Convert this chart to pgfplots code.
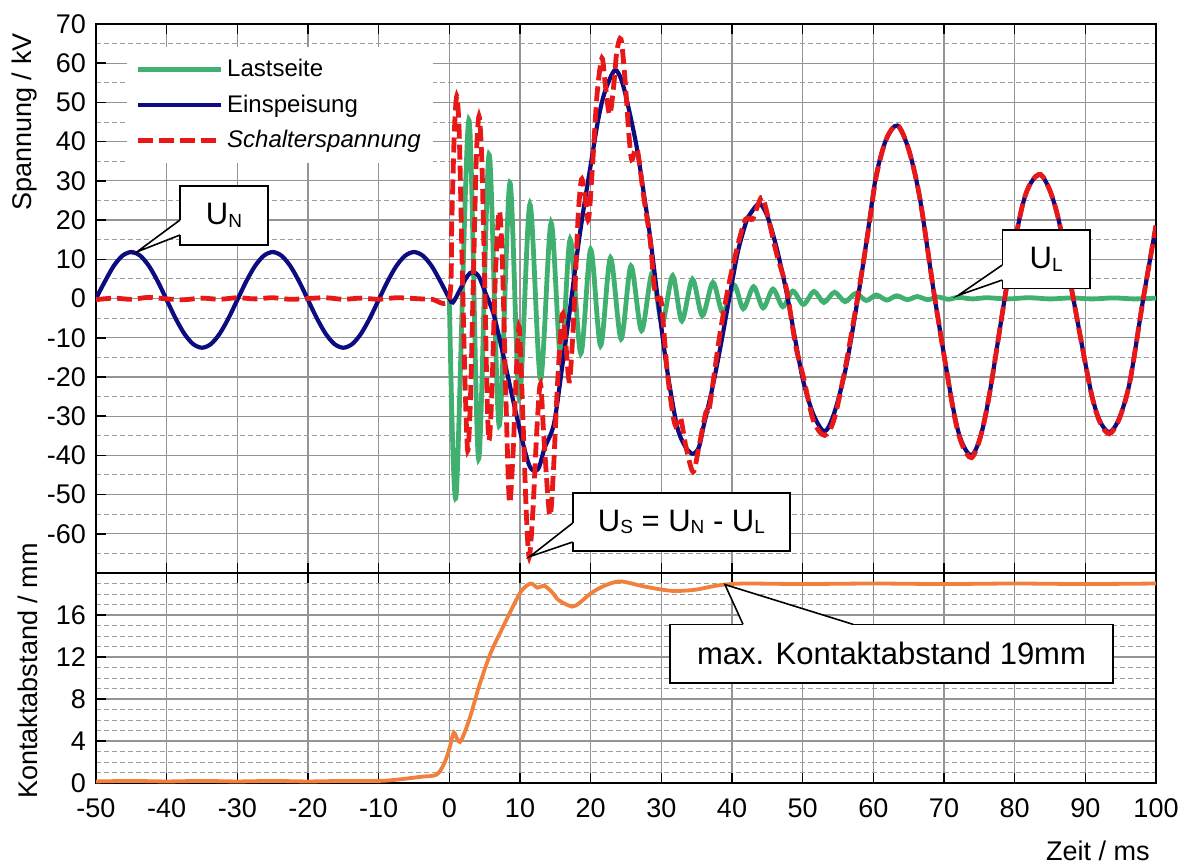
\documentclass[border=0pt]{standalone}
\usepackage{fontspec}
\setmainfont{Liberation Sans}
\usepackage{pgfplots}
\pgfplotsset{compat=1.18}
\definecolor{cgreen}{RGB}{64,176,112}
\definecolor{cblue}{RGB}{12,12,128}
\definecolor{cred}{RGB}{232,24,24}
\definecolor{corange}{RGB}{240,128,60}
\begin{document}
\begin{tikzpicture}
\useasboundingbox (0,0) rectangle (593.5pt,-431.5pt);
\pgfplotsset{
 mystyle/.style={scale only axis, width=530pt, xmin=-50, xmax=100,
  xtick={-50,-40,...,100}, grid=both,
  major grid style={draw=black!42, line width=0.6pt},
  minor grid style={draw=black!38, line width=0.5pt, dash pattern=on 2.5pt off 1.5pt},
  axis line style={black, line width=0.8pt},
  major tick style={black, line width=0.8pt},
  major tick length=5pt, minor tick length=0pt, tick align=inside, ytick pos=left,
  /pgf/number format/assume math mode=true,
  ticklabel style={font=\fontsize{13.5}{16}\selectfont},
  yticklabel style={xshift=-1.5pt}, xticklabel style={yshift=-4.5pt}}
}
% ---------------- top axis ----------------
\begin{axis}[mystyle, at={(48pt,-12pt)}, anchor=north west, height=274.5pt,
  ymin=-70, ymax=70, ytick={-60,-50,...,70}, minor ytick={-65,-55,...,65},
  xticklabels={},
  legend style={at={(0.0292,0.958)}, anchor=north west, draw=none, fill=white,
    font=\fontsize{12}{13.5}\selectfont, row sep=3.5pt, inner xsep=4pt, inner ysep=4pt},
  legend cell align=left,
  legend image code/.code={\draw[#1] (0pt,0pt) -- (41.5pt,0pt);}]
% Lastseite
\addplot[cgreen, line width=2.4pt, smooth] coordinates {
(0,0) (0.95,-50.5) (2.76,45.5) (4.14,-40.9) (5.62,36.7) (7.05,-32.4) (8.57,29.5)
(9.9,-25.6) (11.4,24) (12.9,-20.5) (14.4,19.3) (15.8,-16.5) (17.1,15.1) (18.6,-14)
(20.0,12.5) (21.4,-12) (22.8,10.4) (24.3,-10.3) (25.7,8.3) (27.2,-8.2) (28.7,6.5)
(30.1,-6.3) (31.6,5.8) (32.9,-5.7) (34.4,4.9) (35.8,-4.4) (37.3,4.1) (38.7,-3.6)
(40.3,3.4) (41.6,-2.6) (43.05,3.0) (44.4,-2.4) (45.8,2.4) (47.2,-2.1) (48.6,1.9)
(50.1,-1.5) (51.6,1.8) (53.0,-1.0) (54.5,1.6) (56.0,-0.8) (57.5,1.3) (59.0,-0.5)
(60.4,0.9) (61.9,-0.4) (63.3,0.7) (64.8,-0.3) (66.2,0.5) (67.7,-0.3) (69.1,0.4)
(70.6,-0.2) (72.0,0.3) (74,-0.1) (76,0.2) (79,-0.1) (82,0.2) (85,-0.1) (88,0.15)
(91,-0.1) (94,0.15) (97,-0.1) (100,0.1)};
\addlegendentry{Lastseite}
% Einspeisung
\addplot[cblue, line width=2.1pt, smooth] coordinates {
(-50,0) (-48.75,4.32) (-47.5,8.28) (-46.25,10.92) (-45,11.85) (-43.75,10.92) (-42.5,8.28)
(-41.25,4.32) (-40,-0.35) (-38.75,-5.02) (-37.5,-8.98) (-36.25,-11.62) (-35,-12.55)
(-33.75,-11.62) (-32.5,-8.98) (-31.25,-5.02) (-30,-0.35) (-28.75,4.32) (-27.5,8.28)
(-26.25,10.92) (-25,11.85) (-23.75,10.92) (-22.5,8.28) (-21.25,4.32) (-20,-0.35)
(-18.75,-5.02) (-17.5,-8.98) (-16.25,-11.62) (-15,-12.55) (-13.75,-11.62) (-12.5,-8.98)
(-11.25,-5.02) (-10,-0.35) (-8.75,4.32) (-7.5,8.28) (-6.25,10.92) (-5,11.85)
(-3.75,10.92) (-2.5,8.28) (-1.25,4.32) (0,0) (0.5,-1.0) (1.5,2.2) (2.5,5.6) (3.3,6.8)
(4.2,5.5) (5.2,1.0) (6.2,-3.6) (7.2,-11) (8.3,-20) (9.4,-29) (10.5,-37.5) (11.3,-42.5)
(12.0,-44) (12.7,-43) (13.5,-38) (14.8,-32) (16.0,-17) (17.2,-1) (18.2,13) (19.1,24)
(20.0,34) (21.0,45) (21.8,51.5) (22.7,56) (23.5,58.3) (24.3,56) (25.1,50.7) (26.5,38.8)
(27.5,27) (28.4,15.9) (29.5,-0.2) (30.8,-18) (32.2,-32.4) (33.3,-37.5) (34.4,-39.6)
(35.3,-38) (36.0,-32.4) (37.2,-23) (38.4,-12) (39.6,0) (40.8,11.7) (42.0,19.5)
(42.7,21.9) (43.9,24.2) (45.0,21) (46.3,13) (47.7,1.7) (49.0,-11) (50.1,-21.2)
(51.5,-29.5) (53.1,-33.9) (54.5,-29) (56.2,-16.9) (58.1,3.4) (59.3,18) (60.4,31.4)
(61.8,40.5) (63.4,44.1) (65.0,38) (66.6,25.4) (68.7,0) (71.3,-28) (72.5,-36.5)
(73.9,-40) (75.2,-35) (76.5,-23.7) (78.9,3.4) (81.0,23) (82.3,29.5) (83.7,31.5)
(85.1,27) (86.4,18.6) (88.3,0) (90.7,-22.9) (92.0,-31) (93.4,-34.1) (94.8,-30.5)
(96.3,-21.2) (98.2,0) (100,18.6)};
\addlegendentry{Einspeisung}
% Schalterspannung
\addplot[cred, line width=2.4pt, dash pattern=on 7.5pt off 3pt, smooth] coordinates {
(-50,-0.3) (-47.5,0.1) (-45,-0.2) (-42.5,0.3) (-40,-0.1) (-37.5,-0.3) (-35,0.1)
(-32.5,-0.2) (-30,0.2) (-27.5,-0.1) (-25,0.2) (-22.5,-0.2) (-20,0) (-17.5,0.2)
(-15,-0.2) (-12.5,0.1) (-10,-0.2) (-7.5,0.2) (-5,0) (-2.5,-0.2) (0,0)
(0.35,20) (0.7,42) (1.05,51.6) (1.4,42) (1.8,10) (2.2,-20) (2.6,-38.8) (3.0,-25)
(3.4,5) (3.8,35) (4.2,46.5) (4.6,35) (5.0,5) (5.3,-22) (5.6,-36.2) (6.0,-25) (6.5,5)
(7.05,22.3) (7.5,10) (8.0,-25) (8.5,-51.9) (9.0,-40) (9.5,-18) (9.9,-7.4) (10.4,-30)
(10.9,-55) (11.3,-65.9) (11.8,-55) (12.4,-33) (12.9,-21.8) (13.4,-36) (14.2,-55.3)
(14.7,-45) (15.3,-22) (16.0,-4) (16.5,-12) (17.0,-21) (17.6,-5) (18.2,20) (18.7,30.4)
(19.2,26) (19.7,20.2) (20.3,35) (20.9,52) (21.6,61.3) (22.1,54) (22.7,46.9) (23.3,55)
(23.7,63) (24.3,66.1) (24.9,55) (25.4,42) (25.8,35.4) (26.3,38) (26.7,37.1) (27.5,26)
(28.4,15.1) (29.0,3) (29.5,-0.2) (30.0,-1) (30.8,-18) (31.5,-28) (32.0,-32.4)
(32.7,-30.3) (33.5,-38) (34.5,-44.2) (35.3,-38) (36.3,-29) (36.7,-29) (37.5,-19)
(38.4,-7.8) (39.6,4) (40.8,13.4) (41.9,20.2) (42.9,20.2) (43.6,23.5) (44.3,25.8)
(45.2,20) (46.3,11.5) (47.7,2.5) (49.0,-12) (50.1,-20) (51.5,-31) (53.1,-34.9)
(54.5,-30.5) (56.2,-16) (58.1,3.8) (59.3,17.5) (60.4,31) (61.8,40.5) (63.4,44.2)
(65.0,38) (66.6,25.4) (68.7,0) (71.3,-28.3) (72.5,-37) (73.9,-40.6) (75.2,-35)
(76.5,-23.7) (78.9,3.4) (81.0,23) (82.3,29.6) (83.7,31.6) (85.1,27) (86.4,18.6)
(88.3,0) (90.7,-23) (92.0,-31.3) (93.4,-34.5) (94.8,-30.7) (96.3,-21.2) (98.2,0)
(100,18.6)};
\addlegendentry{\textit{Schalterspannung}}
\coordinate (tN) at (axis cs:-44.2,11.9);
\coordinate (tS) at (axis cs:11.4,-65.8);
\coordinate (tL) at (axis cs:72.0,0.8);
\end{axis}
% ---------------- bottom axis ----------------
\begin{axis}[mystyle, at={(48pt,-286.5pt)}, anchor=north west, height=105pt,
  ymin=0, ymax=20, ytick={0,4,...,16},
  minor ytick={1,2,3,5,6,7,9,10,11,13,14,15,17,18,19}]
\addplot[corange, line width=1.9pt, smooth] coordinates {
(-50,0.15) (-45,0.2) (-40,0.15) (-35,0.2) (-30,0.15) (-25,0.2) (-20,0.15) (-15,0.2)
(-10,0.2) (-7.7,0.3) (-3.9,0.6) (-1.8,0.8) (-0.7,1.9) (0.1,3.5) (0.65,4.8) (1.5,3.9)
(2.8,6) (4.2,9.2) (5.8,12.3) (7.4,14.6) (9.0,16.8) (10.2,18.3) (11.5,19) (12.5,18.6)
(13.4,18.8) (14.5,18.2) (15.5,17.4) (17.4,16.8) (18.5,17.2) (20.1,18.1) (22,18.8)
(24.2,19.2) (27.7,18.7) (31.5,18.3) (34.7,18.4) (37,18.7) (39,18.9) (42,19.0)
(50,18.95) (60,19.0) (70,18.95) (80,19.0) (90,18.95) (100,19.0)};
\coordinate (tK) at (axis cs:39.0,18.9);
\end{axis}
% ---------------- labels ----------------
\node[rotate=90, font=\fontsize{13.5}{16}\selectfont] at (12.5pt,-61pt) {Spannung / kV};
\node[rotate=90, font=\fontsize{13.5}{16}\selectfont] at (14pt,-335.5pt) {Kontaktabstand / mm};
\node[anchor=base east, font=\fontsize{13.5}{16}\selectfont, inner sep=0pt] at (575pt,-430pt) {Zeit / ms};
% ---------------- callouts ----------------
\tikzset{cbox/.style={fill=white, draw=black, line width=0.8pt}}
% U_N
\filldraw[cbox] (90pt,-93pt) rectangle (134pt,-122.5pt);
\fill[white] (tN) -- (90pt,-110pt) -- (91.5pt,-110pt) -- (91.5pt,-117.5pt) -- (90pt,-117.5pt) -- cycle;
\draw[line width=0.8pt] (90pt,-110pt) -- (tN) -- (90pt,-117.5pt);
\node[font=\fontsize{15.5}{16}\selectfont] at (112pt,-107.75pt) {U\raisebox{-1.2pt}{\fontsize{9.5}{10}\selectfont N}};
% U_S
\filldraw[cbox] (286.35pt,-246.35pt) rectangle (395pt,-275.35pt);
\fill[white] (tS) -- (286.35pt,-261.5pt) -- (287.8pt,-261.5pt) -- (287.8pt,-271pt) -- (286.35pt,-271pt) -- cycle;
\draw[line width=0.8pt] (286.35pt,-261.5pt) -- (tS) -- (286.35pt,-271pt);
\node[font=\fontsize{15.5}{16}\selectfont] at (340.7pt,-260.85pt) {U\raisebox{-1.2pt}{\fontsize{9.5}{10}\selectfont S} = U\raisebox{-1.2pt}{\fontsize{9.5}{10}\selectfont N} - U\raisebox{-1.2pt}{\fontsize{9.5}{10}\selectfont L}};
% U_L
\filldraw[cbox] (501.15pt,-115pt) rectangle (545pt,-144.15pt);
\fill[white] (tL) -- (501.15pt,-132.5pt) -- (502.6pt,-132.5pt) -- (502.6pt,-140pt) -- (501.15pt,-140pt) -- cycle;
\draw[line width=0.8pt] (501.15pt,-132.5pt) -- (tL) -- (501.15pt,-140pt);
\node[font=\fontsize{15.5}{16}\selectfont] at (523.1pt,-129.6pt) {U\raisebox{-1.2pt}{\fontsize{9.5}{10}\selectfont L}};
% Kontaktabstand
\filldraw[cbox] (335pt,-312.15pt) rectangle (556.5pt,-341.35pt);
\fill[white] (tK) -- (371.5pt,-312.15pt) -- (371.5pt,-313.6pt) -- (426.5pt,-313.6pt) -- (426.5pt,-312.15pt) -- cycle;
\draw[line width=0.8pt] (371.5pt,-312.15pt) -- (tK) -- (426.5pt,-312.15pt);
\node[font=\fontsize{15.5}{16}\selectfont] at (445.75pt,-326.75pt) {max. Kontaktabstand 19mm};
\end{tikzpicture}
\end{document}
